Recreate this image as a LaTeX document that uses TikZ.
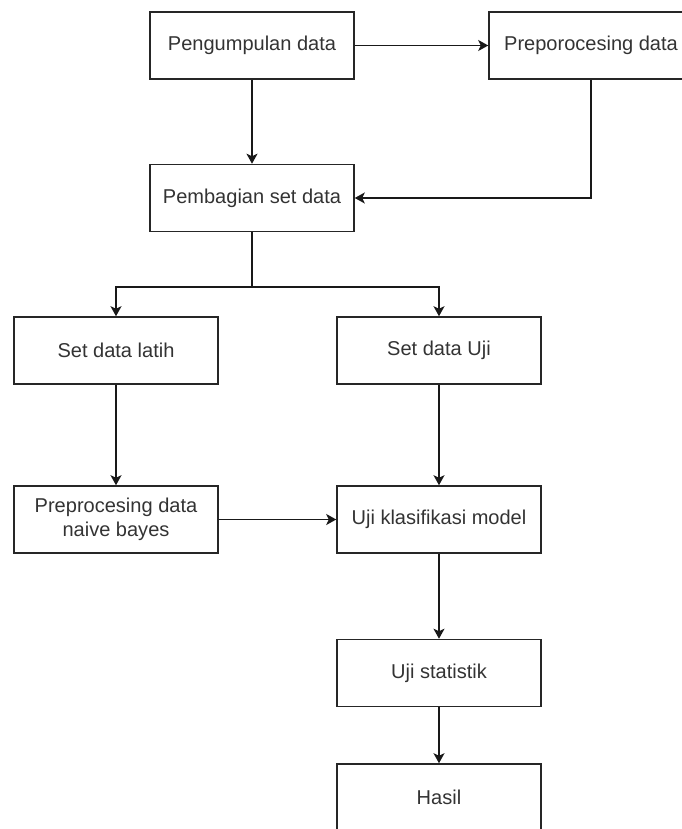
\documentclass[tikz,border=0pt]{standalone}
\usepackage{fontspec}
\setmainfont{Liberation Sans}
\usetikzlibrary{arrows.meta}
\begin{document}
\begin{tikzpicture}
		[	x=0.02cm,y=-0.02cm,
		box/.style={rectangle,draw=black!85,line width=0.9pt,minimum width=4.08cm,minimum height=1.34cm,align=center,font=\fontsize{11.4}{13.5}\selectfont,text=black!80},
		link/.style={line width=0.9pt,draw=black!90,-{Stealth[length=0.2cm,width=0.22cm,inset=0.05cm]}}
		]
		\useasboundingbox (0,0) rectangle (682,829);
		\node[box] (kumpul) at (252,45.5){Pengumpulan data};
		\node[box] (prepro) at (591,45.5){Preporocesing data};
		\node[box] (bagi) at (252,198){Pembagian set data};
		\node[box] (latih) at (116,350.5){Set data latih};
		\node[box] (ujiset) at (439,350.5){Set data Uji};
		\node[box] (naive) at (116,519.5){Preprocesing data\\naive bayes};
		\node[box] (klasif) at (439,519.5){Uji klasifikasi model};
		\node[box] (stat) at (439,673){Uji statistik};
		\node[box] (hasil) at (439,797.5){Hasil};
\coordinate (cabang) at (252,287);
\draw[link] (kumpul) -- (prepro);
\draw[link] (kumpul) -- (bagi);
\draw[link] (prepro.south) |- (bagi.east);
\draw[line width=0.9pt,draw=black!90] (bagi.south) -- (cabang);
\draw[link] (cabang) -| (latih.north);
\draw[link] (cabang) -| (ujiset.north);
\draw[link] (latih) -- (naive);
\draw[link] (ujiset) -- (klasif);
\draw[link] (naive) -- (klasif);
\draw[link] (klasif) -- (stat);
\draw[link] (stat) -- (hasil);
\end{tikzpicture}
\end{document}
